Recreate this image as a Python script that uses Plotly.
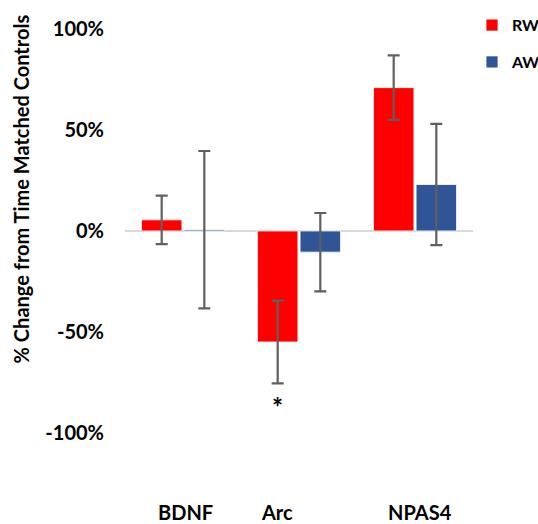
import plotly.graph_objects as go

categories = ["BDNF", "Arc", "NPAS4"]
rw_values = [5.5, -55, 71]
rw_errors = [12, 20.5, 16]
aw_values = [0.6, -10.5, 23]
aw_errors = [39, 19.4, 30]
tick_values = [-100, -50, 0, 50, 100]
tick_labels = ["-100%", "-50%", "0%", "50%", "100%"]
significant = ["", "*", ""]

FONT = "Lato, 'Open Sans', sans-serif"
ERR = dict(type="data", symmetric=True, color="#5f5f5f", thickness=2.2, width=6)

PLOT_L, PLOT_R, PLOT_T, PLOT_B = 125, 473, 18.5, 452.8
PW, PH = PLOT_R - PLOT_L, PLOT_B - PLOT_T

fig = go.Figure()
fig.add_trace(go.Bar(
    x=categories, y=rw_values, name="<b>RW</b>", legendgroup="rw",
    marker=dict(color="#FF0000", line=dict(color="white", width=0.8)),
    error_y=dict(array=rw_errors, **ERR),
))
fig.add_trace(go.Bar(
    x=categories, y=aw_values, name="<b>AW</b>", legendgroup="aw",
    marker=dict(color="#2F5597", line=dict(color="white", width=0.8)),
    error_y=dict(array=aw_errors, **ERR),
))

# category labels placed under the chart
label_shift = [2, -22, 5]
for cat, dx in zip(categories, label_shift):
    fig.add_annotation(x=cat, xref="x", y=-(525 - PLOT_B) / PH, yref="paper", text=f"<b>{cat}</b>",
                       showarrow=False, xshift=dx, yanchor="bottom", borderpad=0,
                       font=dict(family=FONT, size=20, color="black"))

# significance markers below the RW error bars
for cat, v, e, s in zip(categories, rw_values, rw_errors, significant):
    if s:
        fig.add_annotation(x=cat, xref="x", y=v - e, yref="y", text=f"<b>{s}</b>",
                           showarrow=False, xshift=-22, yshift=-24, yanchor="middle",
                           font=dict(family=FONT, size=26, color="black"))

# y-axis title
fig.add_annotation(x=-(PLOT_L - 21) / PW, xref="paper", y=(PLOT_B - 189) / PH, yref="paper",
                   text="<b>% Change from Time Matched Controls</b>",
                   showarrow=False, textangle=-90, xanchor="center", yanchor="middle",
                   font=dict(family=FONT, size=20, color="black"))

fig.update_layout(
    width=538, height=524,
    margin=dict(l=PLOT_L, r=538 - PLOT_R, t=PLOT_T, b=524 - PLOT_B, pad=0, autoexpand=False),
    paper_bgcolor="white", plot_bgcolor="white",
    barmode="group", bargap=0.265, bargroupgap=0.05,
    font=dict(family=FONT, color="black"),
    showlegend=True,
    legend=dict(x=(472 - PLOT_L) / PW, y=1 + (PLOT_T - 7.7) / PH, xanchor="left", yanchor="top",
                font=dict(family=FONT, size=16, color="black"),
                traceorder="grouped", tracegroupgap=13,
                itemwidth=30, bgcolor="rgba(0,0,0,0)"),
)
fig.update_xaxes(showticklabels=False, showline=False, showgrid=False, zeroline=False, ticks="")
fig.update_yaxes(range=[-110, 105], tickvals=tick_values, ticktext=[f"<b>{t}</b>" for t in tick_labels],
                 showgrid=False, showline=False, zeroline=True, zerolinecolor="#D9D9D9",
                 zerolinewidth=1.5, ticks="", ticklabelstandoff=20,
                 tickfont=dict(family=FONT, size=20, color="black"))

fig.write_html("out.html")
